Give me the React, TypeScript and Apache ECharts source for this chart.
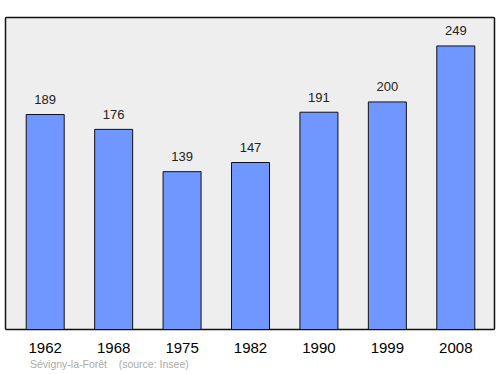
import React, { useEffect, useRef } from "react";
import * as echarts from "echarts";

const years = ["1962", "1968", "1975", "1982", "1990", "1999", "2008"];
const population = [189, 176, 139, 147, 191, 200, 249];
const sourceText = "Sévigny-la-Forêt    (source: Insee)";

export default function App() {
  const ref = useRef<HTMLDivElement>(null);
  useEffect(() => {
    const chart = echarts.init(ref.current!, null, { renderer: "svg" });
    chart.setOption({
      animation: false,
      textStyle: { fontFamily: "Liberation Sans, Arial, sans-serif" },
      graphic: [
        {
          type: "rect",
          shape: { x: 5.5, y: 17.5, width: 489, height: 312, r: 1 },
          style: { fill: "#eeeeee", stroke: "#111", lineWidth: 1.5 },
          z: -10,
          silent: true,
        },
        {
          type: "text",
          left: 30,
          top: 358,
          style: {
            text: sourceText,
            fill: "#aaaaaa",
            font: "10.5px Liberation Sans, Arial, sans-serif",
          },
        },
      ],
      grid: { left: 11, right: 10, top: 17, bottom: 44 },
      xAxis: {
        type: "category",
        data: years,
        axisLine: { show: false },
        axisTick: { show: false },
        axisLabel: {
          color: "#000",
          fontSize: 15,
          margin: 10,
          fontFamily: "Liberation Sans, Arial, sans-serif",
        },
      },
      yAxis: {
        type: "value",
        min: 0,
        max: 273.9,
        show: false,
        splitLine: { show: false },
      },
      series: [
        {
          type: "bar",
          data: population,
          barWidth: 39,
          itemStyle: { color: "#7096ff", borderColor: "#111", borderWidth: 1 },
          label: {
            show: true,
            position: "top",
            distance: 8,
            color: "#222",
            fontSize: 13,
            fontFamily: "Liberation Sans, Arial, sans-serif",
          },
        },
      ],
    });
    return () => chart.dispose();
  }, []);
  return <div ref={ref} style={{ width: 500, height: 374, position: "absolute", left: 0, top: 0 }} />;
}
